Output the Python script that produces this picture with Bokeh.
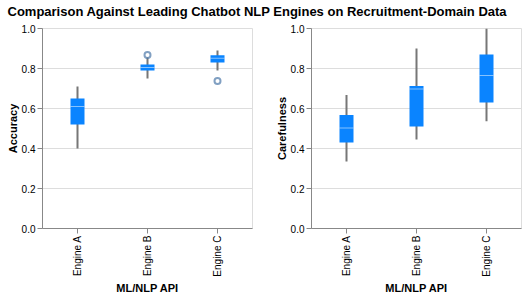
import math
from bokeh.plotting import figure
from bokeh.models import Range1d, FixedTicker, PrintfTickFormatter, Label
from bokeh.layouts import column, row
from bokeh.embed import file_html
from bokeh.resources import INLINE

# ---- data ----
engines = ["Engine A", "Engine B", "Engine C"]

acc_low = [0.40, 0.75, 0.79]
acc_q1 = [0.52, 0.79, 0.83]
acc_med = [0.61, 0.805, 0.851]
acc_q3 = [0.65, 0.82, 0.866]
acc_high = [0.71, 0.855, 0.89]
acc_out_x = ["Engine B", "Engine C"]
acc_out_y = [0.868, 0.737]

car_low = [0.335, 0.445, 0.536]
car_q1 = [0.43, 0.51, 0.63]
car_med = [0.503, 0.697, 0.765]
car_q3 = [0.567, 0.713, 0.87]
car_high = [0.667, 0.90, 1.0]
car_out_x = []
car_out_y = []

y_ticks = [0.0, 0.2, 0.4, 0.6, 0.8, 1.0]

TITLE = "Comparison Against Leading Chatbot NLP Engines on Recruitment-Domain Data"
XLABEL = "ML/NLP API"
FONT = "Liberation Sans"
BOX = "#0a84ff"


def panel(ylabel, low, q1, med, q3, high, ox, oy, bl, br):
    p = figure(x_range=engines, y_range=Range1d(0, 1),
               frame_width=210, frame_height=200,
               min_border_left=bl, min_border_right=br,
               min_border_top=6, min_border_bottom=10,
               output_backend="svg", toolbar_location=None)
    p.outline_line_color = "#dddddd"
    p.xgrid.visible = False
    p.ygrid.grid_line_color = "#dddddd"
    p.yaxis.ticker = FixedTicker(ticks=y_ticks)
    p.yaxis.formatter = PrintfTickFormatter(format="%.1f")
    for ax in (p.xaxis[0], p.yaxis[0]):
        ax.axis_line_color = "#888888"
        ax.major_tick_line_color = "#888888"
        ax.minor_tick_line_color = None
        ax.major_tick_in = 0
        ax.major_tick_out = 5
        ax.major_label_text_font = FONT
        ax.major_label_text_font_size = "10px"
        ax.major_label_text_color = "#000000"
        ax.major_label_standoff = 2
        ax.axis_label_text_font = FONT
        ax.axis_label_text_font_size = "11px"
        ax.axis_label_text_font_style = "bold"
        ax.axis_label_text_color = "#000000"
    p.xaxis.axis_label_standoff = 2
    p.yaxis.axis_label_standoff = 0
    p.xaxis.axis_label = XLABEL
    p.yaxis.axis_label = ylabel
    p.xaxis.major_label_orientation = math.pi / 2

    p.segment(x0=engines, y0=low, x1=engines, y1=high,
              line_color="#777777", line_width=2)
    p.vbar(x=engines, bottom=q1, top=q3, width=0.2,
           fill_color=BOX, line_color=None)
    p.rect(x=engines, y=med, width=0.2, height=1, height_units="screen",
           fill_color="white", fill_alpha=0.5, line_color=None)
    if ox:
        p.scatter(x=ox, y=oy, size=6, fill_color=None,
                  line_color="#4c78a8", line_alpha=0.7, line_width=2)
    return p


left = panel("Accuracy", acc_low, acc_q1, acc_med, acc_q3, acc_high,
             acc_out_x, acc_out_y, 42, 17)
right = panel("Carefulness", car_low, car_q1, car_med, car_q3, car_high,
              car_out_x, car_out_y, 42, 5)

tp = figure(width=520, height=22, x_range=Range1d(0, 1), y_range=Range1d(0, 1),
            min_border=0, output_backend="svg", toolbar_location=None)
tp.axis.visible = False
tp.grid.visible = False
tp.outline_line_color = None
tp.add_layout(Label(x=7, y=11, x_units="screen", y_units="screen", text=TITLE,
                    text_font=FONT, text_font_size="13px",
                    text_font_style="bold", text_color="#000000",
                    text_baseline="middle"))

layout = column(tp, row(left, right))

with open("out.html", "w") as f:
    f.write(file_html(layout, INLINE))
